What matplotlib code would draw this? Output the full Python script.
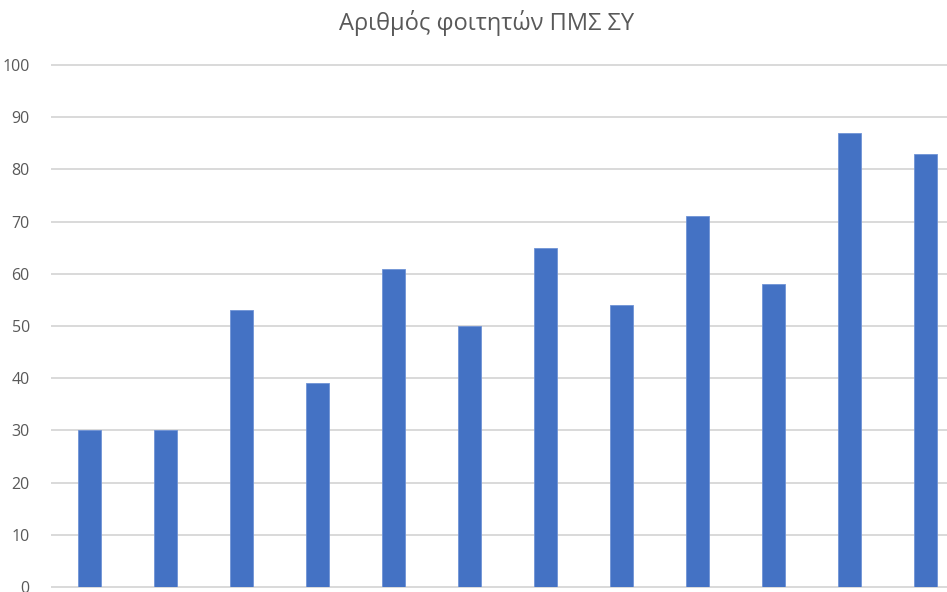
import matplotlib.pyplot as plt

# values (12 bars, category labels are cut off)
categories = list(range(12))
students = [30, 30, 53, 39, 61, 50, 65, 54, 71, 58, 87, 83]
yticks = [0, 10, 20, 30, 40, 50, 60, 70, 80, 90, 100]

plt.rcParams['font.family'] = ['Open Sans', 'DejaVu Sans']

fig = plt.figure(figsize=(9.47, 5.92), dpi=100)
#axes placed so the plot runs past the right edge like the screenshot
ax = fig.add_axes([52 / 947, 5 / 592, 1 - 52 / 947, 522 / 592])

ax.bar(categories, students, width=0.30, color='#4472C4',
       edgecolor='#6F93D6', linewidth=0.6, zorder=3)

ax.set_xlim(-0.493, 11.28)
ax.set_ylim(0, 100)
ax.set_yticks(yticks)
ax.set_xticks([])
ax.yaxis.grid(True, color='#D9D9D9', linewidth=1.4)
for line in ax.get_ygridlines():
    line.set_clip_on(False)
ax.tick_params(axis='y', length=0, pad=16, labelsize=11.5, labelcolor='#595959')
for s in ax.spines.values():
    s.set_visible(False)

fig.text(487 / 947, 1 - 23 / 592, 'Αριθμός φοιτητών ΠΜΣ ΣΥ', ha='center', va='center',
         fontsize=17, color='#595959')

fig.savefig('out.png', dpi=100)
